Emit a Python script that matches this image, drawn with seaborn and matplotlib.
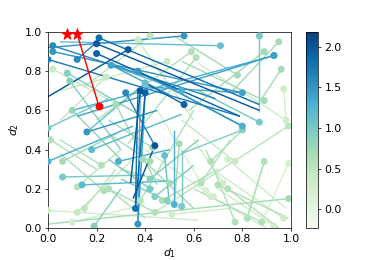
import matplotlib
matplotlib.use("Agg")
import matplotlib.pyplot as plt
from matplotlib.collections import LineCollection
import seaborn as sns
import numpy as np
import pandas as pd

# each segment: dot at (dot_x, dot_y), line to (end_x, end_y), coloured by value
dot_x = [0.33, 0.20, 0.21, 0.20, 0.93, 0.93, 0.56, 0.71, 0.87, 0.95, 0.96, 0.97,
         0.38, 0.40, 0.38, 0.00, 0.32, 0.02, 0.02, 0.12, 0.37, 0.55, 0.56, 0.80,
         0.89, 0.87, 0.80, 0.98, 0.89, 0.78, 0.59, 0.61, 0.49, 0.42, 0.37, 0.40,
         0.02, 0.08, 0.09, 0.24, 0.10, 0.28, 0.26,
         0.00, 0.01, 0.16, 0.06, 0.00, 0.18, 0.06, 0.12, 0.14, 0.23, 0.25, 0.12,
         0.15, 0.10, 0.19, 0.22, 0.29, 0.00,
         0.44, 0.48, 0.43, 0.54, 0.39, 0.42, 0.42, 0.50, 0.42, 0.44, 0.47, 0.49,
         0.52, 0.55, 0.36, 0.37, 0.44, 0.51, 0.63, 0.67, 0.38, 0.65, 0.67,
         0.80, 0.74, 0.77, 0.89, 0.99, 0.70, 0.72, 0.74, 0.68, 0.99, 0.82, 0.88,
         0.97, 0.77, 0.93, 0.99]
dot_y = [0.91, 0.94, 0.97, 0.89, 0.88, 0.88, 0.98, 0.93, 0.98, 0.95, 0.81, 0.71,
         0.70, 0.69, 0.70, 0.86, 0.69, 0.93, 0.90, 0.86, 0.80, 0.70, 0.63, 0.69,
         0.65, 0.54, 0.52, 0.55, 0.90, 0.78, 0.90, 0.87, 0.85, 0.98, 0.96, 0.74,
         0.81, 0.79, 0.75, 0.77, 0.60, 0.63, 0.83,
         0.51, 0.45, 0.49, 0.34, 0.34, 0.40, 0.26, 0.21, 0.22, 0.19, 0.20, 0.08,
         0.10, 0.03, 0.01, 0.32, 0.34, 0.09,
         0.42, 0.37, 0.41, 0.43, 0.35, 0.34, 0.25, 0.23, 0.20, 0.16, 0.14, 0.14,
         0.12, 0.11, 0.10, 0.02, 0.08, 0.07, 0.23, 0.34, 0.14, 0.19, 0.16,
         0.50, 0.35, 0.34, 0.34, 0.33, 0.22, 0.23, 0.20, 0.16, 0.15, 0.05, 0.03,
         0.05, 0.03, 0.01, 0.52]
end_x = [0.00, 0.87, 0.87, 0.79, 0.10, 0.12, 0.00, 0.05, 0.87, 0.76, 0.88, 0.98,
         0.34, 0.36, 0.37, 0.79, 0.44, 0.69, 0.80, 0.22, 0.80, 0.26, 0.40, 0.40,
         0.55, 0.62, 0.45, 0.62, 0.58, 0.52, 0.20, 0.33, 0.05, 0.15, 0.60, 0.15,
         0.30, 0.40, 0.30, 0.05, 0.30, 0.45, 0.50,
         0.25, 0.20, 0.45, 0.28, 0.35, 0.55, 0.40, 0.30, 0.50, 0.05, 0.40, 0.35,
         0.28, 0.40, 0.30, 0.05, 0.50, 0.62,
         0.35, 0.50, 0.25, 0.52, 0.60, 0.25, 0.62, 0.30, 0.25, 0.60, 0.70, 0.30,
         0.52, 0.55, 0.37, 0.40, 0.25, 0.75, 0.75, 0.80, 0.60, 0.45, 0.90,
         0.55, 0.98, 0.55, 0.82, 0.88, 0.99, 0.60, 0.95, 0.40, 0.00, 0.89, 0.60,
         0.70, 0.65, 0.70, 0.44]
end_y = [0.67, 0.60, 0.63, 0.57, 0.60, 0.57, 0.92, 0.95, 0.59, 0.70, 0.66, 0.55,
         0.23, 0.10, 0.02, 0.57, 0.42, 0.66, 0.69, 0.97, 0.52, 0.83, 0.74, 0.72,
         0.85, 0.70, 0.75, 0.84, 0.60, 0.98, 0.55, 0.43, 0.70, 0.72, 0.55, 0.48,
         0.62, 0.56, 0.40, 0.55, 0.35, 0.22, 0.68,
         0.66, 0.30, 0.60, 0.48, 0.52, 0.58, 0.27, 0.40, 0.24, 0.38, 0.05, 0.35,
         0.30, 0.12, 0.20, 0.45, 0.40, 0.04,
         0.15, 0.12, 0.55, 0.12, 0.10, 0.48, 0.45, 0.30, 0.35, 0.32, 0.30, 0.25,
         0.50, 0.40, 0.70, 0.69, 0.20, 0.10, 0.45, 0.50, 0.60, 0.60, 0.00,
         0.38, 0.10, 0.55, 0.05, 0.03, 0.05, 0.45, 0.00, 0.40, 0.02, 0.34, 0.20,
         0.28, 0.40, 0.20, 0.08]
value = [2.0, 2.0, 1.8, 1.9, 1.3, 1.4, 1.5, 1.1, 1.0, 0.7, 0.7, 0.3,
         2.0, 1.9, 1.3, 1.7, 1.6, 1.6, 1.5, 1.6, 1.5, 1.3, 1.9, 1.4,
         0.7, 1.0, 1.3, 0.3, 0.7, 0.7, 0.6, 0.6, 0.4, 0.5, 0.4, 1.1,
         0.4, 0.9, 0.9, 0.4, 0.8, 0.7, 1.4,
         1.0, 0.6, 1.5, 0.7, 1.3, 1.2, 1.0, 0.5, 1.2, 0.6, 0.6, 0.4,
         0.5, 0.3, 0.9, 0.6, 1.3, 0.3,
         2.0, 1.1, 0.7, 0.7, 0.7, 0.7, 0.9, 0.7, 1.0, 0.9, 0.6, 0.9,
         1.3, 1.0, 1.8, 1.5, 0.6, 0.3, 0.6, 0.6, 0.6, 0.2, 0.3,
         0.9, 0.3, 0.4, 0.6, 0.2, 0.6, 0.3, 0.6, 0.3, 0.7, 0.6, 0.6,
         0.3, 0.6, 0.3, 0.5]

# best points (stars) and the chosen point (red dot)
star_x = [0.08, 0.12]
star_y = [0.99, 0.99]
pick_x = 0.21
pick_y = 0.62

VMIN, VMAX = -0.23, 2.18
cmap = plt.get_cmap("GnBu")
norm = matplotlib.colors.Normalize(vmin=VMIN, vmax=VMAX)

plt.rcParams["font.size"] = 12

df = pd.DataFrame({"x0": dot_x, "y0": dot_y, "x1": end_x, "y1": end_y, "v": value})
df = df.sort_values("v").reset_index(drop=True)

fig = plt.figure(figsize=(6, 4), dpi=65)
ax = fig.add_axes([0.123, 0.123, 0.623, 0.754])
cax = fig.add_axes([0.785, 0.123, 0.031, 0.754])

segs = [[(r.x0, r.y0), (r.x1, r.y1)] for r in df.itertuples()]
lc = LineCollection(segs, colors=cmap(norm(df["v"].values)), linewidths=1.6, zorder=2)
ax.add_collection(lc)

sns.scatterplot(data=df, x="x0", y="y0", hue="v", palette="GnBu", hue_norm=norm,
                s=60, linewidth=0, legend=False, ax=ax, zorder=3)

ax.plot([star_x[1], pick_x], [star_y[1], pick_y], color="red", lw=1.6, zorder=4)
ax.scatter([pick_x], [pick_y], color="red", s=60, zorder=5)
ax.scatter(star_x, star_y, color="red", marker="*", s=170, zorder=6, clip_on=False)

ax.set_xlim(0, 1)
ax.set_ylim(0, 1)
ax.set_xlabel("$d_1$", labelpad=2)
ax.set_ylabel("$d_2$")

sm = matplotlib.cm.ScalarMappable(norm=norm, cmap=cmap)
cb = fig.colorbar(sm, cax=cax)
cb.set_ticks([0.0, 0.5, 1.0, 1.5, 2.0])

fig.savefig("out.png", dpi=65)
